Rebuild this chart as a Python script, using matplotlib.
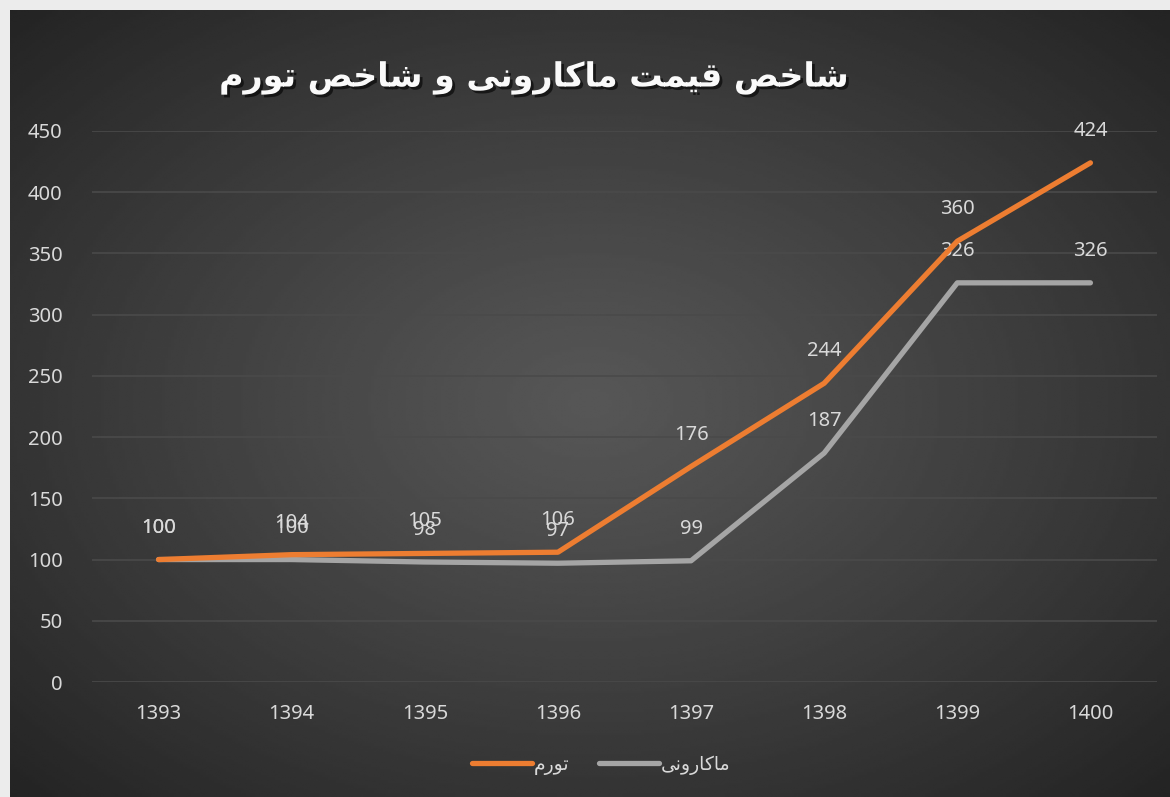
import numpy as np
import matplotlib
matplotlib.use('Agg')
import matplotlib.pyplot as plt
import matplotlib.patheffects as pe

plt.rcParams['font.family'] = ['Noto Sans', 'DejaVu Sans']

years = ['1393', '1394', '1395', '1396', '1397', '1398', '1399', '1400']
tavarom = [100, 104, 105, 106, 176, 244, 360, 424]      # تورم
macaroni = [100, 100, 98, 97, 99, 187, 326, 326]         # ماکارونی

# Persian text written in shaped presentation forms, visual (left-to-right) order
w_shakhes = '\uFEBA\uFEA7\uFE8E\uFEB7'
w_gheymat = '\uFE96\uFEE4\uFBFF\uFED7'
w_macaroni = '\uFBFD\uFEE7\uFEED\uFEAD\uFE8E\uFB90\uFE8E\uFEE3'
w_va = '\uFEED'
w_tavarom = '\uFEE1\uFEAD\uFEEE\uFE97'
title = ' '.join([w_tavarom, w_shakhes, w_va, w_macaroni, w_gheymat, w_shakhes])

orange = '#ED7D31'
gray = '#A5A5A5'
txt = '#D9D9D9'

fig = plt.figure(figsize=(11.7, 7.97), dpi=100, facecolor='#ECECEC')

# dark radial panel
bg = fig.add_axes([10 / 1170, 0, 1 - 10 / 1170, 787 / 797])
gx, gy = np.meshgrid(np.linspace(-1, 1, 400), np.linspace(-1, 1, 300))
r = np.sqrt(gx ** 2 + gy ** 2) / np.sqrt(2)
shade = 0.34 - 0.20 * np.clip(r, 0, 1) ** 1.1
bg.imshow(shade, cmap='gray', vmin=0, vmax=1, aspect='auto', interpolation='bilinear')
bg.axis('off')

ax = fig.add_axes([92 / 1170, 115 / 797, (1157 - 92) / 1170, (682 - 131) / 797])
ax.set_facecolor('none')
x = np.arange(len(years))

ax.plot(x, macaroni, color=gray, lw=3.8, solid_joinstyle='round', solid_capstyle='round', zorder=3)
ax.plot(x, tavarom, color=orange, lw=3.8, solid_joinstyle='round', solid_capstyle='round', zorder=4)

for xi, v in zip(x, tavarom):
    ax.annotate(str(v), (xi, v), xytext=(0, 23), textcoords='offset points',
                ha='center', va='center', color=txt, fontsize=14.5)
for xi, v in zip(x, macaroni):
    ax.annotate(str(v), (xi, v), xytext=(0, 23), textcoords='offset points',
                ha='center', va='center', color=txt, fontsize=14.5)

ax.set_xlim(-0.5, 7.5)
ax.set_ylim(0, 450)
ax.set_yticks(range(0, 451, 50))
ax.set_xticks(x)
ax.set_xticklabels(years)
ax.tick_params(axis='both', length=0, colors=txt, labelsize=14.5)
ax.tick_params(axis='y', pad=21)
ax.tick_params(axis='x', pad=16)
ax.grid(axis='y', color='#4A4A4A', lw=1.2)
ax.set_axisbelow(True)
for s in ax.spines.values():
    s.set_visible(False)

fig.text(535 / 1170, 1 - 78 / 797, title, ha='center', va='center', fontsize=24,
         fontweight='bold', color='#FAFAFA', family='DejaVu Sans',
         path_effects=[pe.SimplePatchShadow(offset=(2, -2), shadow_rgbFace='black', alpha=0.6),
                       pe.Normal()])

h1, = ax.plot([], [], color=orange, lw=3.8, solid_capstyle='round')
h2, = ax.plot([], [], color=gray, lw=3.8, solid_capstyle='round')
fig.legend([h1, h2], [w_tavarom, w_macaroni], loc='center', bbox_to_anchor=(601 / 1170, 32 / 797),
           ncol=2, frameon=False, labelcolor=txt, handlelength=3.2,
           handletextpad=0.1, columnspacing=1.6, prop={'family': ['DejaVu Sans'], 'size': 13.5})

fig.savefig('out.png', dpi=100, facecolor=fig.get_facecolor())
